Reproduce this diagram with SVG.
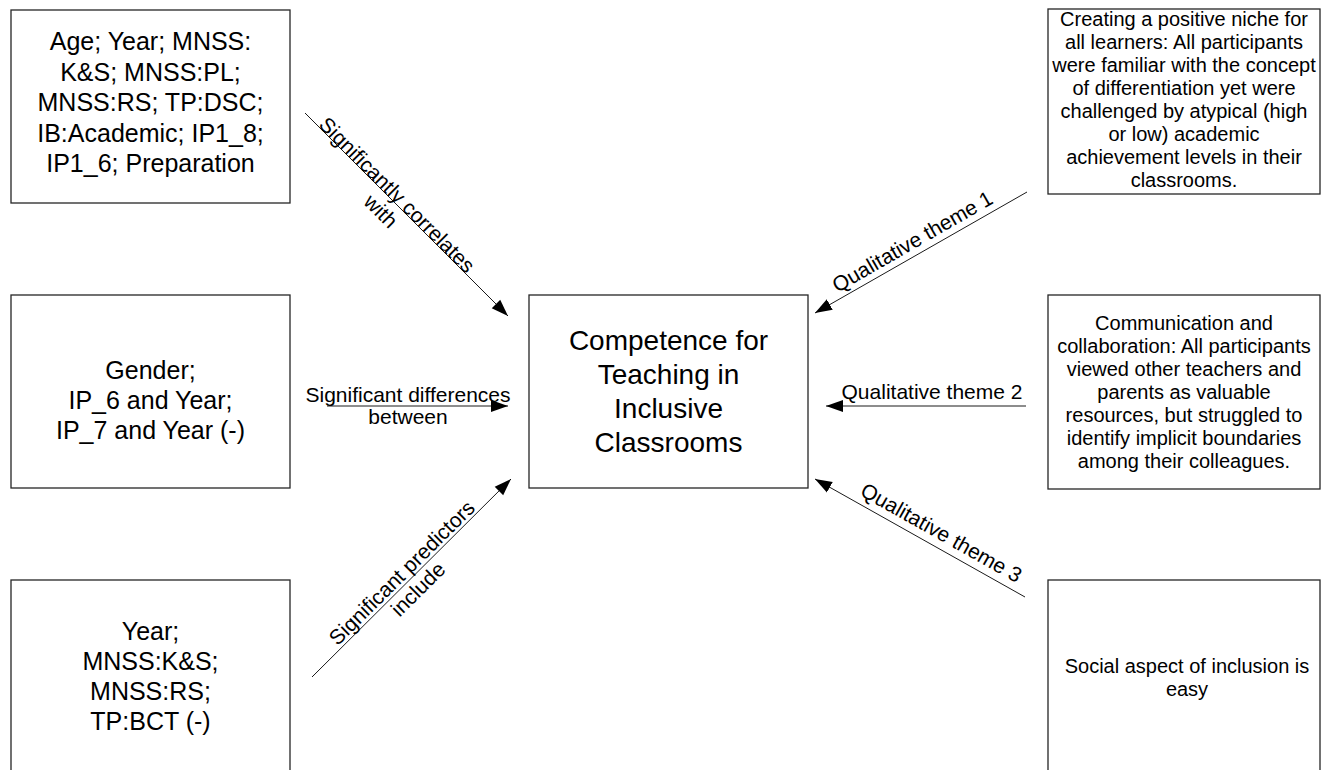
<svg xmlns="http://www.w3.org/2000/svg" width="1321" height="770" viewBox="0 0 1321 770">
  <style>
    .box { fill: #ffffff; stroke: #262626; stroke-width: 1.3; }
    .t { font-family: "Liberation Sans", Arial, sans-serif; fill: #000000; text-anchor: middle; }
    .tl { font-size: 25px; }
    .tc { font-size: 28px; }
    .tr { font-size: 20px; }
    .lbl { font-family: "Liberation Sans", Arial, sans-serif; font-size: 21px; fill: #000000; text-anchor: middle; }
    .conn { stroke: #1a1a1a; stroke-width: 1; fill: none; marker-end: url(#arrow); }
  </style>
  <defs>
    <marker id="arrow" markerUnits="userSpaceOnUse" markerWidth="18" markerHeight="14" refX="17" refY="6" orient="auto" viewBox="0 0 18 12">
      <path d="M0,0 L17,6 L0,12 z" fill="#000000"/>
    </marker>
  </defs>
  <rect width="1321" height="770" fill="#ffffff"/>

  <g id="node-correlates">
    <rect class="box" x="11" y="10" width="279" height="193"/>
    <text class="t tl" x="150.5" y="50">Age; Year; MNSS:</text>
    <text class="t tl" x="150.5" y="80.5">K&amp;S; MNSS:PL;</text>
    <text class="t tl" x="150.5" y="111">MNSS:RS; TP:DSC;</text>
    <text class="t tl" x="150.5" y="141.5">IB:Academic; IP1_8;</text>
    <text class="t tl" x="150.5" y="172">IP1_6; Preparation</text>
  </g>

  <g id="node-differences">
    <rect class="box" x="11" y="295" width="279" height="193"/>
    <text class="t tl" x="150.5" y="379">Gender;</text>
    <text class="t tl" x="150.5" y="409">IP_6 and Year;</text>
    <text class="t tl" x="150.5" y="439">IP_7 and Year (-)</text>
  </g>

  <g id="node-predictors">
    <rect class="box" x="11" y="580" width="279" height="193"/>
    <text class="t tl" x="150.5" y="640">Year;</text>
    <text class="t tl" x="150.5" y="670">MNSS:K&amp;S;</text>
    <text class="t tl" x="150.5" y="700">MNSS:RS;</text>
    <text class="t tl" x="150.5" y="730">TP:BCT (-)</text>
  </g>

  <g id="node-competence">
    <rect class="box" x="529" y="295" width="279" height="193"/>
    <text class="t tc" x="668.5" y="350">Competence for</text>
    <text class="t tc" x="668.5" y="384">Teaching in</text>
    <text class="t tc" x="668.5" y="418">Inclusive</text>
    <text class="t tc" x="668.5" y="452">Classrooms</text>
  </g>

  <g id="node-theme1">
    <rect class="box" x="1048" y="9" width="272" height="185"/>
    <text class="t tr" x="1184" y="26">Creating a positive niche for</text>
    <text class="t tr" x="1184" y="49">all learners: All participants</text>
    <text class="t tr" x="1184" y="72">were familiar with the concept</text>
    <text class="t tr" x="1184" y="95">of differentiation yet were</text>
    <text class="t tr" x="1184" y="118">challenged by atypical (high</text>
    <text class="t tr" x="1184" y="141">or low) academic</text>
    <text class="t tr" x="1184" y="164">achievement levels in their</text>
    <text class="t tr" x="1184" y="187">classrooms.</text>
  </g>

  <g id="node-theme2">
    <rect class="box" x="1048" y="295" width="272" height="194"/>
    <text class="t tr" x="1184" y="330">Communication and</text>
    <text class="t tr" x="1184" y="353">collaboration: All participants</text>
    <text class="t tr" x="1184" y="376">viewed other teachers and</text>
    <text class="t tr" x="1184" y="399">parents as valuable</text>
    <text class="t tr" x="1184" y="422">resources, but struggled to</text>
    <text class="t tr" x="1184" y="445">identify implicit boundaries</text>
    <text class="t tr" x="1184" y="468">among their colleagues.</text>
  </g>

  <g id="node-theme3">
    <rect class="box" x="1048" y="580" width="272" height="193"/>
    <text class="t tr" x="1187" y="673">Social aspect of inclusion is</text>
    <text class="t tr" x="1187" y="696">easy</text>
  </g>

  <g id="connectors">
    <line class="conn" x1="305" y1="113" x2="508" y2="316"/>
    <line class="conn" x1="327" y1="406" x2="508" y2="406"/>
    <line class="conn" x1="312" y1="677" x2="511" y2="479"/>
    <line class="conn" x1="1027" y1="192" x2="815" y2="313"/>
    <line class="conn" x1="1026" y1="406" x2="826" y2="406"/>
    <line class="conn" x1="1025" y1="597" x2="815" y2="479"/>

    <g transform="translate(392,200) rotate(45)">
      <text class="lbl" x="0" y="0">Significantly correlates</text>
      <text class="lbl" x="0" y="23">with</text>
    </g>
    <text class="lbl" x="408" y="402">Significant differences</text>
    <text class="lbl" x="408" y="424">between</text>
    <g transform="translate(409,580) rotate(-44.7)">
      <text class="lbl" x="0" y="-3">Significant predictors</text>
      <text class="lbl" x="0" y="20">include</text>
    </g>
    <g transform="translate(919,253) rotate(-29.9)">
      <text class="lbl" x="0" y="-6">Qualitative theme 1</text>
    </g>
    <text class="lbl" x="932" y="399">Qualitative theme 2</text>
    <g transform="translate(934,546) rotate(29.3)">
      <text class="lbl" x="0" y="-8">Qualitative theme 3</text>
    </g>
  </g>
</svg>
